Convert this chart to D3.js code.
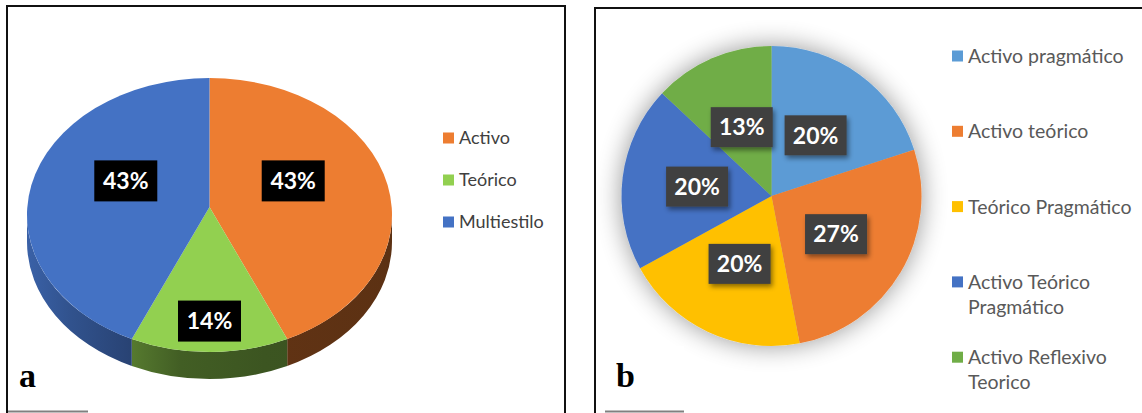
<!DOCTYPE html>
<html><head><meta charset="utf-8">
<script src="https://cdn.jsdelivr.net/npm/d3@7"></script>
<style>body{margin:0;background:#fff}svg{display:block}</style>
</head><body>
<svg id="c" width="1142" height="413"></svg>
<script>
// ---- data ----
const catsA = ["Activo", "Teórico", "Multiestilo"];
const valsA = [43, 14, 43];
const colorsA = ["#ED7D31", "#92D050", "#4472C4"];

const catsB = ["Activo pragmático", "Activo teórico", "Teórico Pragmático", "Activo Teórico Pragmático", "Activo Reflexivo Teorico"];
const valsB = [20, 27, 20, 20, 13];
const colorsB = ["#5B9BD5", "#ED7D31", "#FFC000", "#4472C4", "#70AD47"];

const panelLabels = ["a", "b"];

const svg = d3.select("#c");
const defs = svg.append("defs");
const FONT = "Lato, 'Open Sans', sans-serif";

// ---- panel frames ----
svg.append("path").attr("d", "M7,414V6H565V414").attr("fill", "none").attr("stroke", "#111").attr("stroke-width", 2);
svg.append("path").attr("d", "M595,414V8H1150").attr("fill", "none").attr("stroke", "#111").attr("stroke-width", 2);
svg.append("line").attr("x1", 8).attr("x2", 88).attr("y1", 411.5).attr("y2", 411.5).attr("stroke", "#808080").attr("stroke-width", 2);
svg.append("line").attr("x1", 605).attr("x2", 684).attr("y1", 411.5).attr("y2", 411.5).attr("stroke", "#808080").attr("stroke-width", 2);

// ================= Panel A (3D pie) =================
const A = {cx: 209.5, cy: 215, rx: 182.5, ry: 137, depth: 27, apexY: 207};
const pie = d3.pie().sort(null).value(d => d);
const arcsA = pie(valsA);
const pt = (a, dy = 0) => [A.cx + A.rx * Math.sin(a), A.cy - A.ry * Math.cos(a) + dy];

// side shading gradients
const shadeStops = [[0, 0.85], [0.12, 0.72], [0.27, 0.6], [0.42, 0.45], [0.65, 0.41], [1, 0.39]];
colorsA.forEach((c, i) => {
  const g = defs.append("linearGradient").attr("id", "side" + i)
    .attr("gradientUnits", "userSpaceOnUse")
    .attr("x1", A.cx - A.rx).attr("x2", A.cx + A.rx).attr("y1", 0).attr("y2", 0);
  const base = d3.rgb(c);
  shadeStops.forEach(([o, f]) => {
    g.append("stop").attr("offset", o).attr("stop-color", d3.rgb(base.r * f, base.g * f, base.b * f).formatHex());
  });
});

const gA = svg.append("g");
// sides (front half only: angles between PI/2 and 3PI/2)
arcsA.forEach((d, i) => {
  const a0 = Math.max(d.startAngle, Math.PI / 2), a1 = Math.min(d.endAngle, 3 * Math.PI / 2);
  if (a1 <= a0) return;
  const p0 = pt(a0), p1 = pt(a1), q1 = pt(a1, A.depth), q0 = pt(a0, A.depth);
  const path = `M${p0}A${A.rx},${A.ry} 0 0 1 ${p1}L${q1}A${A.rx},${A.ry} 0 0 0 ${q0}Z`;
  gA.append("path").attr("d", path).attr("fill", `url(#side${i})`);
});
// top faces
arcsA.forEach((d, i) => {
  const p0 = pt(d.startAngle), p1 = pt(d.endAngle);
  const large = (d.endAngle - d.startAngle) > Math.PI ? 1 : 0;
  const path = `M${A.cx},${A.apexY}L${p0}A${A.rx},${A.ry} 0 ${large} 1 ${p1}Z`;
  gA.append("path").attr("d", path).attr("fill", colorsA[i]);
});
// labels
const fmt = v => v + "%";
arcsA.forEach((d, i) => {
  const m = (d.startAngle + d.endAngle) / 2;
  const x = A.cx + 0.47 * A.rx * Math.sin(m);
  const y = A.cy - 9 - 0.84 * A.ry * Math.cos(m);
  const w = 63, h = 41;
  gA.append("rect").attr("x", x - w / 2).attr("y", y - h / 2).attr("width", w).attr("height", h).attr("fill", "#000");
  gA.append("text").attr("x", x).attr("y", y).attr("dy", "0.36em").attr("text-anchor", "middle")
    .attr("fill", "#fff").attr("font-family", FONT).attr("font-weight", "bold").attr("font-size", 23)
    .text(fmt(valsA[i]));
});
// legend A
const legA = svg.append("g").attr("font-family", FONT).attr("font-size", 18).attr("fill", "#404040");
catsA.forEach((c, i) => {
  const y = 138 + i * 42;
  legA.append("rect").attr("x", 443).attr("y", y - 5.5).attr("width", 11).attr("height", 11).attr("fill", colorsA[i]);
  legA.append("text").attr("x", 459).attr("y", y).attr("dy", "0.36em").text(c);
});

// ================= Panel B (2D pie) =================
const B = {cx: 771.5, cy: 196, r: 150};
const shadow = defs.append("filter").attr("id", "glow").attr("x", "-30%").attr("y", "-30%").attr("width", "160%").attr("height", "160%");
shadow.append("feGaussianBlur").attr("in", "SourceAlpha").attr("stdDeviation", 13).attr("result", "b");
shadow.append("feComponentTransfer").attr("in", "b").attr("result", "b2")
  .append("feFuncA").attr("type", "linear").attr("slope", 0.42);
const mg = shadow.append("feMerge");
mg.append("feMergeNode").attr("in", "b2");
mg.append("feMergeNode").attr("in", "SourceGraphic");

const boxSh = defs.append("filter").attr("id", "boxsh").attr("x", "-20%").attr("y", "-20%").attr("width", "150%").attr("height", "160%");
boxSh.append("feDropShadow").attr("dx", 2).attr("dy", 3).attr("stdDeviation", 2.5).attr("flood-color", "#000").attr("flood-opacity", 0.45);

const arcB = d3.arc().innerRadius(0).outerRadius(B.r);
const labArc = d3.arc().innerRadius(B.r / 2).outerRadius(B.r / 2);
const arcsB = pie(valsB);
const gB = svg.append("g").attr("transform", `translate(${B.cx},${B.cy})`);
const slices = gB.append("g").attr("filter", "url(#glow)");
slices.selectAll("path").data(arcsB).join("path").attr("d", arcB).attr("fill", (d, i) => colorsB[i]);
arcsB.forEach((d, i) => {
  const [x, y] = labArc.centroid(d);
  const w = 62, h = 40;
  const g = gB.append("g");
  g.append("rect").attr("x", x - w / 2).attr("y", y - h / 2).attr("width", w).attr("height", h)
    .attr("fill", "#404040").attr("filter", "url(#boxsh)");
  g.append("text").attr("x", x).attr("y", y).attr("dy", "0.36em").attr("text-anchor", "middle")
    .attr("fill", "#fff").attr("font-family", FONT).attr("font-weight", "bold").attr("font-size", 23)
    .text(fmt(valsB[i]));
});

// white patch behind label b
svg.append("rect").attr("x", 596).attr("y", 346).attr("width", 88).attr("height", 64).attr("fill", "#fff");

// legend B
const legB = svg.append("g").attr("font-family", FONT).attr("font-size", 19.5).attr("fill", "#595959");
const maxW = 172;
catsB.forEach((c, i) => {
  const y = 56 + i * 75.3;
  legB.append("rect").attr("x", 952).attr("y", y - 5.5).attr("width", 11).attr("height", 11).attr("fill", colorsB[i]);
  const t = legB.append("text").attr("x", 968).attr("y", y).attr("dy", "0.36em");
  const words = c.split(" ");
  let line = [], lineNo = 0;
  let ts = t.append("tspan").attr("x", 968);
  words.forEach(wd => {
    line.push(wd);
    ts.text(line.join(" "));
    if (ts.node().getComputedTextLength() > maxW && line.length > 1) {
      line.pop();
      ts.text(line.join(" "));
      line = [wd];
      lineNo++;
      ts = t.append("tspan").attr("x", 968).attr("y", y + lineNo * 25).attr("dy", "0.36em").text(wd);
    }
  });
});

// panel letters
svg.append("text").attr("x", 19).attr("y", 387).attr("font-family", "'Liberation Serif', 'DejaVu Serif', serif")
  .attr("font-weight", "bold").attr("font-size", 34).attr("fill", "#000").text(panelLabels[0]);
svg.append("text").attr("x", 616).attr("y", 387).attr("font-family", "'Liberation Serif', 'DejaVu Serif', serif")
  .attr("font-weight", "bold").attr("font-size", 34).attr("fill", "#000").text(panelLabels[1]);
</script>
</body></html>
